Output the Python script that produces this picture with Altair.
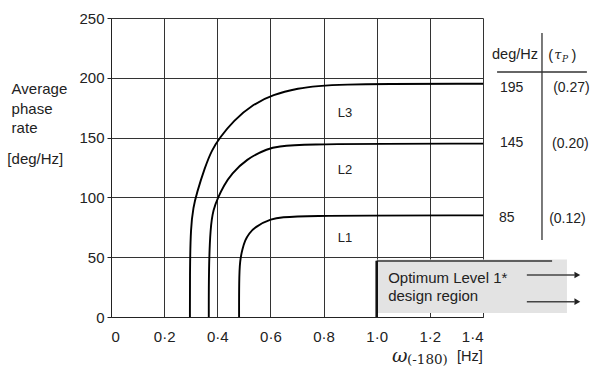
import altair as alt
import pandas as pd

# ---------------- data ----------------
x_ticks = [0, 0.2, 0.4, 0.6, 0.8, 1.0, 1.2, 1.4]
y_ticks = [0, 50, 100, 150, 200, 250]

curve_names = ["L3", "L2", "L1"]
l3_x = [0.297, 0.297, 0.300, 0.310, 0.322, 0.353, 0.380, 0.410, 0.460, 0.535, 0.610, 0.700, 0.810, 1.400]
l3_y = [0, 40, 75, 92, 103, 125, 140, 150, 164, 178, 186, 191, 195, 195]
l2_x = [0.368, 0.368, 0.374, 0.385, 0.403, 0.425, 0.453, 0.510, 0.585, 0.660, 1.400]
l2_y = [0, 40, 75, 90, 100, 110, 119.7, 132, 140.5, 145, 145]
l1_x = [0.482, 0.482, 0.485, 0.495, 0.504, 0.520, 0.541, 0.598, 0.673, 1.400]
l1_y = [0, 30, 47.5, 57, 64, 70, 75, 82, 85, 85]

# curve labels
lab_text = ["L3", "L2", "L1"]
lab_x = [0.881, 0.881, 0.881]
lab_y = [170.6, 122.9, 66.0]

# y-axis title lines
ytitle_text = ["Average", "phase", "rate", "[deg/Hz]"]
ytitle_x = [-0.374, -0.374, -0.374, -0.39]
ytitle_y = [186.5, 169.7, 153.8, 127.9]

# right-hand table
tbl_vals = ["195", "145", "85"]
tbl_x = [1.464, 1.464, 1.460]
tbl_y = [188.1, 142.1, 79.4]
tau_vals = ["(0.27)", "(0.20)", "(0.12)"]
tau_x = [1.664, 1.660, 1.649]
tau_y = [188.1, 141.3, 78.6]

# optimum region box
box_x = [1.0, 1.716]
box_y = [3.3, 48.0]
box_text = ["Optimum Level 1*", "design region"]
box_text_x = [1.043, 1.043]
box_text_y = [28.2, 13.6]
arrow_y = [35.1, 12.8]
arrow_x = [1.565, 1.745]

# ---------------- tables ----------------
rows = []
for name, xs, ys in zip(curve_names, [l3_x, l2_x, l1_x], [l3_y, l2_y, l1_y]):
    for i, (xv, yv) in enumerate(zip(xs, ys)):
        rows.append({"s": name, "i": i, "x": xv, "y": yv})
curves_df = pd.DataFrame(rows)

xscale = alt.Scale(domain=[0, 1.4], nice=False, zero=False)
yscale = alt.Scale(domain=[0, 250], nice=False, zero=False)
xaxis = alt.Axis(values=x_ticks, title=None, grid=True, gridColor="#333", gridWidth=1,
                 domainColor="#222", tickSize=0, labelPadding=12, labelFontSize=15,
                 labelFont="Liberation Sans", labelColor="#222",
                 labelExpr="datum.value == 0 ? '0' : replace(format(datum.value, '.1f'), '.', '·')")
yaxis = alt.Axis(values=y_ticks, title=None, grid=True, gridColor="#333", gridWidth=1,
                 domainColor="#222", tickColor="#222", tickSize=4, labelPadding=3,
                 labelFontSize=15, labelFont="Liberation Sans", labelColor="#222")


def X(field="x"):
    return alt.X(f"{field}:Q", scale=xscale, axis=xaxis)


def Y(field="y"):
    return alt.Y(f"{field}:Q", scale=yscale, axis=yaxis)


curves = alt.Chart(curves_df).mark_line(color="black", strokeWidth=1.9, interpolate="basis").encode(
    x=X(), y=Y(), detail="s:N", order="i:Q")

# box
box_df = pd.DataFrame({"x": [box_x[0]], "x2": [box_x[1]], "y": [box_y[0]], "y2": [box_y[1]]})
box = alt.Chart(box_df).mark_rect(fill="#e3e3e3", opacity=1).encode(
    x=X(), x2="x2", y=Y(), y2="y2")
box_top = alt.Chart(pd.DataFrame({"x": [1.0], "x2": [1.66], "y": [46.8]})).mark_rule(
    color="#333", strokeWidth=1.6).encode(x=X(), x2="x2", y=Y())
box_left = alt.Chart(pd.DataFrame({"x": [1.0], "y": [0.0], "y2": [47.0]})).mark_rule(
    color="#111", strokeWidth=2.6).encode(x=X(), y=Y(), y2="y2")
box_txt = alt.Chart(pd.DataFrame({"x": box_text_x, "y": box_text_y, "t": box_text})).mark_text(
    align="left", baseline="alphabetic", font="Liberation Sans", fontSize=15, color="#222").encode(
    x=X(), y=Y(), text="t:N")
arrows = alt.Chart(pd.DataFrame({"x": [arrow_x[0]] * 2, "x2": [arrow_x[1]] * 2, "y": arrow_y})).mark_rule(
    color="#444", strokeWidth=1.6).encode(x=X(), x2="x2", y=Y())
heads = alt.Chart(pd.DataFrame({"x": [arrow_x[1] + 0.01] * 2, "y": arrow_y})).mark_point(
    shape="triangle-right", filled=True, color="#222", size=45, opacity=1).encode(x=X(), y=Y())

# curve labels
labels = alt.Chart(pd.DataFrame({"x": lab_x, "y": lab_y, "t": lab_text})).mark_text(
    align="center", baseline="middle", font="Liberation Sans", fontSize=13, color="#222").encode(
    x=X(), y=Y(), text="t:N")

# y title
ytitle = alt.Chart(pd.DataFrame({"x": ytitle_x, "y": ytitle_y, "t": ytitle_text})).mark_text(
    align="left", baseline="alphabetic", font="Liberation Sans", fontSize=15, color="#222").encode(
    x=X(), y=Y(), text="t:N")

# x title pieces
xt_omega = alt.Chart(pd.DataFrame({"x": [1.0576], "y": [-37.6], "t": ["ω"]})).mark_text(
    align="left", baseline="alphabetic", font="DejaVu Serif", fontStyle="italic", fontSize=19,
    color="#222").encode(x=X(), y=Y(), text="t:N")
xt_sub = alt.Chart(pd.DataFrame({"x": [1.114], "y": [-39.3], "t": ["(-180)"]})).mark_text(
    align="left", baseline="alphabetic", font="DejaVu Serif", fontSize=13.5,
    color="#222").encode(x=X(), y=Y(), text="t:N")
xt_hz = alt.Chart(pd.DataFrame({"x": [1.3022], "y": [-36.8], "t": ["[Hz]"]})).mark_text(
    align="left", baseline="alphabetic", font="Liberation Sans", fontSize=14.5,
    color="#222").encode(x=X(), y=Y(), text="t:N")

# right table
hdr = alt.Chart(pd.DataFrame({"x": [1.434, 1.646, 1.733], "y": [215.4, 214.6, 214.6],
                              "t": ["deg/Hz", "(", ")"]})).mark_text(
    align="left", baseline="alphabetic", font="Liberation Sans", fontSize=14.5, color="#222").encode(
    x=X(), y=Y(), text="t:N")
hdr_tau = alt.Chart(pd.DataFrame({"x": [1.668], "y": [216.0], "t": ["τ"]})).mark_text(
    align="left", baseline="alphabetic", font="DejaVu Serif", fontStyle="italic", fontSize=13,
    color="#222").encode(x=X(), y=Y(), text="t:N")
hdr_p = alt.Chart(pd.DataFrame({"x": [1.697], "y": [213.2], "t": ["P"]})).mark_text(
    align="left", baseline="alphabetic", font="DejaVu Serif", fontStyle="italic", fontSize=9,
    color="#222").encode(x=X(), y=Y(), text="t:N")
hdr_line = alt.Chart(pd.DataFrame({"x": [1.453], "x2": [1.791], "y": [204.8]})).mark_rule(
    color="#333", strokeWidth=1.5).encode(x=X(), x2="x2", y=Y())
vline = alt.Chart(pd.DataFrame({"x": [1.622], "y": [64.4], "y2": [237.5]})).mark_rule(
    color="#333", strokeWidth=1.3).encode(x=X(), y=Y(), y2="y2")
vals = alt.Chart(pd.DataFrame({"x": tbl_x, "y": tbl_y, "t": tbl_vals})).mark_text(
    align="left", baseline="alphabetic", font="Liberation Sans", fontSize=14, color="#222").encode(
    x=X(), y=Y(), text="t:N")
taus = alt.Chart(pd.DataFrame({"x": tau_x, "y": tau_y, "t": tau_vals})).mark_text(
    align="left", baseline="alphabetic", font="Liberation Sans", fontSize=14, color="#222").encode(
    x=X(), y=Y(), text="t:N")

chart = alt.layer(
    curves, box, box_top, box_left, box_txt, arrows, heads, labels, ytitle,
    xt_omega, xt_sub, xt_hz, hdr, hdr_tau, hdr_p, hdr_line, vline, vals, taus
).properties(
    width=372, height=299,
    padding={"left": 111, "top": 18, "right": 111, "bottom": 50},
    autosize=alt.AutoSizeParams(type="none"),
    background="white",
).configure_view(stroke=None)

chart.save("out.html", embed_options={"renderer": "svg", "actions": False})
